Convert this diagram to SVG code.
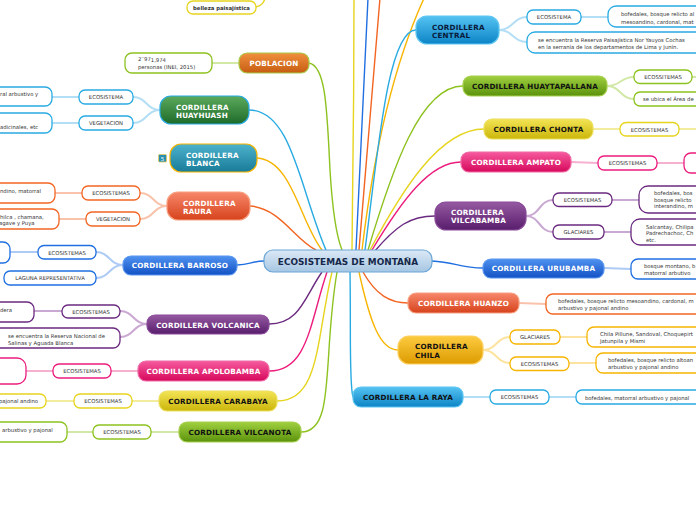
<svg xmlns="http://www.w3.org/2000/svg" width="696" height="520" viewBox="0 0 696 520">
<defs>
<linearGradient id="gCenter" x1="0" y1="0" x2="0" y2="1"><stop offset="0" stop-color="#dbe9f6"/><stop offset="1" stop-color="#a6c6e2"/></linearGradient>
<linearGradient id="gOrange" x1="0" y1="0" x2="0" y2="1"><stop offset="0" stop-color="#f0903e"/><stop offset="1" stop-color="#c65d12"/></linearGradient>
<linearGradient id="gDGreen" x1="0" y1="0" x2="0" y2="1"><stop offset="0" stop-color="#5caa5c"/><stop offset="1" stop-color="#1d6b2a"/></linearGradient>
<linearGradient id="gTeal" x1="0" y1="0" x2="0" y2="1"><stop offset="0" stop-color="#4db2cc"/><stop offset="1" stop-color="#187c98"/></linearGradient>
<linearGradient id="gRed" x1="0" y1="0" x2="0" y2="1"><stop offset="0" stop-color="#f7876a"/><stop offset="1" stop-color="#d6431c"/></linearGradient>
<linearGradient id="gBlue" x1="0" y1="0" x2="0" y2="1"><stop offset="0" stop-color="#4f92f0"/><stop offset="1" stop-color="#1352c4"/></linearGradient>
<linearGradient id="gPurple" x1="0" y1="0" x2="0" y2="1"><stop offset="0" stop-color="#965aa2"/><stop offset="1" stop-color="#581d6c"/></linearGradient>
<linearGradient id="gPink" x1="0" y1="0" x2="0" y2="1"><stop offset="0" stop-color="#f65a9e"/><stop offset="1" stop-color="#d6085c"/></linearGradient>
<linearGradient id="gYellow" x1="0" y1="0" x2="0" y2="1"><stop offset="0" stop-color="#f3e455"/><stop offset="1" stop-color="#cbb60a"/></linearGradient>
<linearGradient id="gGreen" x1="0" y1="0" x2="0" y2="1"><stop offset="0" stop-color="#a0d040"/><stop offset="1" stop-color="#5b920c"/></linearGradient>
<linearGradient id="gCyan" x1="0" y1="0" x2="0" y2="1"><stop offset="0" stop-color="#55c3f2"/><stop offset="1" stop-color="#0c84c6"/></linearGradient>
<linearGradient id="gGold" x1="0" y1="0" x2="0" y2="1"><stop offset="0" stop-color="#fccb40"/><stop offset="1" stop-color="#dd9b00"/></linearGradient>
</defs>
<style>
.m{font-family:"DejaVu Sans",Verdana,sans-serif;font-weight:bold;font-size:7.2px;letter-spacing:0.2px}
.w{fill:#ffffff}
.k{fill:#111111}
.s{font-family:"DejaVu Sans",Verdana,sans-serif;font-size:5.3px;fill:#333333}
.ct{text-anchor:middle}
.c{fill:none;stroke-width:1.4}
.cl{fill:none;stroke-width:2}
.b{fill:#ffffff;stroke-width:1.3}
.gr{stroke:#8dc21f}.cy{stroke:#29abe2}.go{stroke:#f7b500}.rd{stroke:#f26522}.bl{stroke:#1f6fe0}.pu{stroke:#6b2a80}.pk{stroke:#ec1c7d}.ye{stroke:#e6d41e}
.lgr{stroke:#d2e8a6}.lcy{stroke:#b4def5}.lgo{stroke:#fde3a0}.lrd{stroke:#f9c2aa}.lbl{stroke:#aecbf5}.lpu{stroke:#c9a8d2}.lpk{stroke:#f6b0d0}.lye{stroke:#f3ec9e}
</style>

<g id="connectors">
  <!-- main branches -->
  <path class="c ye" d="M352 250 C353 180 354 80 354 -2"/>
  <path class="c bl" d="M356 250 C360 160 365 70 368 -2"/>
  <path class="c rd" d="M359 250 C366 160 374 70 380 -2"/>
  <path class="c go" d="M362 250 C374 150 395 60 426 -6"/>
  <path class="c cy" d="M365 250 C378 150 388 30 416 30"/>
  <path class="c gr" d="M368 250 C392 170 420 86 463 86"/>
  <path class="c ye" d="M370 250 C402 190 440 129 484 129"/>
  <path class="c pk" d="M372 250 C402 200 430 162 461 162"/>
  <path class="c pu" d="M374 252 C396 226 410 216 435 216"/>
  <path class="c bl" d="M432 261 C455 262 460 268 483 268"/>
  <path class="c gr" d="M309 63 C326 66 327 110 330 170 C333 220 338 240 342 250"/>
  <path class="c cy" d="M249 110 C292 110 300 190 326 250"/>
  <path class="c go" d="M257 158 C292 160 300 222 322 250"/>
  <path class="c rd" d="M250 206 C280 208 295 240 316 250"/>
  <path class="c bl" d="M237 265 C250 265 252 261 264 261"/>
  <path class="c pu" d="M322 272 C305 296 300 324 269 324"/>
  <path class="c pk" d="M327 272 C310 322 308 371 269 371"/>
  <path class="c ye" d="M332 272 C316 340 320 401 277 401"/>
  <path class="c gr" d="M337 272 C322 360 336 432 301 432"/>
  <path class="c rd" d="M363 272 C376 295 390 303 408 303"/>
  <path class="c go" d="M359 272 C370 322 380 350 398 350"/>
  <path class="c cy" d="M350 272 C351 330 349 385 353 397"/>
  <path class="c ye" d="M256 7 C262 6 264 2 266 -4"/>
  <!-- sub branches left -->
  <path class="cl lgr" d="M212 63 L239 63"/>
  <path class="cl lcy" d="M160 110 C146 110 147 97 133 97"/>
  <path class="cl lcy" d="M160 110 C146 110 147 123 133 123"/>
  <path class="cl lcy" d="M79 97 L52 97"/>
  <path class="cl lcy" d="M79 123 L52 123"/>
  <path class="cl lrd" d="M167 206 C153 206 154 193 140 193"/>
  <path class="cl lrd" d="M167 206 C153 206 154 219 140 219"/>
  <path class="cl lrd" d="M82 193 L55 193"/>
  <path class="cl lrd" d="M86 219 L59 219"/>
  <path class="cl lbl" d="M123 265 C109 265 110 252 96 252"/>
  <path class="cl lbl" d="M123 265 C109 265 110 278 96 278"/>
  <path class="cl lbl" d="M38 252 L10 252"/>
  <path class="cl lpu" d="M147 324 C133 324 134 311 120 311"/>
  <path class="cl lpu" d="M147 324 C133 324 134 337 120 337"/>
  <path class="cl lpu" d="M62 311 L34 311"/>
  <path class="cl lpk" d="M138 371 L111 371"/>
  <path class="cl lpk" d="M53 371 L26 371"/>
  <path class="cl lye" d="M159 401 L132 401"/>
  <path class="cl lye" d="M74 401 L46 401"/>
  <path class="cl lgr" d="M179 432 L151 432"/>
  <path class="cl lgr" d="M93 432 L67 432"/>
  <!-- sub branches right -->
  <path class="cl lcy" d="M499 30 C513 30 513 17 527 17"/>
  <path class="cl lcy" d="M499 30 C513 30 513 42 527 42"/>
  <path class="cl lcy" d="M581 17 L608 17"/>
  <path class="cl lgr" d="M607 86 C621 86 620 77 634 77"/>
  <path class="cl lgr" d="M607 86 C621 86 620 99 634 99"/>
  <path class="cl lgr" d="M692 77 L700 77"/>
  <path class="cl lye" d="M593 129 L620 129"/>
  <path class="cl lye" d="M679 129 L700 129"/>
  <path class="cl lpk" d="M571 162 L598 163"/>
  <path class="cl lpk" d="M657 163 L684 163"/>
  <path class="cl lpu" d="M526 216 C540 216 539 200 553 200"/>
  <path class="cl lpu" d="M526 216 C540 216 539 232 553 232"/>
  <path class="cl lpu" d="M612 200 L639 200"/>
  <path class="cl lpu" d="M604 232 L631 232"/>
  <path class="cl lbl" d="M604 268 L631 269"/>
  <path class="cl lrd" d="M519 303 L546 304"/>
  <path class="cl lgo" d="M483 350 C497 350 496 337 510 337"/>
  <path class="cl lgo" d="M483 350 C497 350 496 363 510 363"/>
  <path class="cl lgo" d="M560 337 L587 337"/>
  <path class="cl lgo" d="M569 363 L596 363"/>
  <path class="cl lcy" d="M463 397 L490 397"/>
  <path class="cl lcy" d="M549 397 L576 397"/>
</g>

<g id="center">
  <rect x="264" y="250" width="168" height="22" rx="9" fill="url(#gCenter)" stroke="#6aa6d6" stroke-width="1.2"/>
  <text x="348" y="264.5" class="ct" font-family="DejaVu Sans,Verdana,sans-serif" font-weight="bold" font-size="8.9" fill="#16284a">ECOSISTEMAS DE MONTAÑA</text>
</g>

<g id="belleza">
  <rect x="187" y="1" width="69" height="13" rx="6" class="b ye"/>
  <text x="221.5" y="10" class="s ct" font-weight="bold">belleza paisajística</text>
</g>

<g id="poblacion">
  <rect x="239" y="53" width="70" height="20" rx="8" fill="url(#gOrange)" stroke="#a8cc4a" stroke-width="1.2"/>
  <text x="274" y="65.5" class="m w ct">POBLACION</text>
</g>
<g id="poblacion-dato">
  <rect x="125" y="53" width="87" height="20" rx="7" class="b gr"/>
  <text x="138" y="61" class="s">2¨97<tspan dy="1">1,974</tspan></text>
  <text x="138" y="68.5" class="s">personas (INEI, 2015)</text>
</g>

<g id="huayhuash">
  <rect x="160" y="96" width="89" height="28" rx="11" fill="url(#gDGreen)" stroke="#29abe2" stroke-width="1.2"/>
  <text x="176" y="109.5" class="m w">CORDILLERA</text>
  <text x="176" y="118" class="m w">HUAYHUASH</text>
</g>
<g id="huayhuash-eco">
  <rect x="79" y="90" width="54" height="14" rx="6" class="b cy"/>
  <text x="106" y="99" class="s ct">ECOSISTEMA</text>
</g>
<g id="huayhuash-veg">
  <rect x="79" y="116" width="54" height="14" rx="6" class="b cy"/>
  <text x="106" y="125" class="s ct">VEGETACION</text>
</g>
<g id="huayhuash-eco-leaf">
  <rect x="-30" y="87" width="82" height="19" rx="7" class="b cy"/>
  <text x="0" y="96" class="s">ral arbustivo y</text>
</g>
<g id="huayhuash-veg-leaf">
  <rect x="-30" y="113" width="82" height="20" rx="7" class="b cy"/>
  <text x="0" y="128.5" class="s">adicinales, etc</text>
</g>

<g id="blanca">
  <rect x="170" y="144" width="87" height="28" rx="11" fill="url(#gTeal)" stroke="#f7b500" stroke-width="1.2"/>
  <text x="186" y="157.5" class="m w">CORDILLERA</text>
  <text x="186" y="166" class="m w">BLANCA</text>
  <rect x="158.5" y="154.5" width="8" height="7.5" rx="1" fill="#2a8fb0" stroke="#e8c85a" stroke-width="0.8"/>
  <text x="162.5" y="160.5" font-family="DejaVu Sans,sans-serif" font-size="5.5" fill="#fff" text-anchor="middle">5</text>
</g>

<g id="raura">
  <rect x="167" y="192" width="83" height="28" rx="11" fill="url(#gRed)" stroke="#f7a080" stroke-width="1.2"/>
  <text x="183" y="205.5" class="m w">CORDILLERA</text>
  <text x="183" y="214" class="m w">RAURA</text>
</g>
<g id="raura-eco">
  <rect x="82" y="186" width="58" height="14" rx="6" class="b rd"/>
  <text x="111" y="195" class="s ct">ECOSISTEMAS</text>
</g>
<g id="raura-veg">
  <rect x="86" y="212" width="54" height="14" rx="6" class="b rd"/>
  <text x="113" y="221" class="s ct">VEGETACION</text>
</g>
<g id="raura-eco-leaf">
  <rect x="-30" y="183" width="85" height="20" rx="7" class="b rd"/>
  <text x="0" y="193" class="s">ndino, matorral</text>
</g>
<g id="raura-veg-leaf">
  <rect x="-30" y="209" width="89" height="20" rx="7" class="b rd"/>
  <text x="0" y="218.5" class="s">hilca , chamana,</text>
  <text x="-1" y="225" class="s">agave y Puya</text>
</g>

<g id="barroso">
  <rect x="123" y="256" width="114" height="19" rx="8" fill="url(#gBlue)" stroke="#5a96f0" stroke-width="1.2"/>
  <text x="180" y="268" class="m w ct">CORDILLERA BARROSO</text>
</g>
<g id="barroso-eco">
  <rect x="38" y="245.5" width="58" height="13.5" rx="6" class="b bl"/>
  <text x="67" y="254.5" class="s ct">ECOSISTEMAS</text>
</g>
<g id="barroso-laguna">
  <rect x="4" y="271" width="92" height="14" rx="6" class="b bl"/>
  <text x="50" y="280" class="s ct">LAGUNA REPRESENTATIVA</text>
</g>
<g id="barroso-eco-leaf">
  <rect x="-30" y="242" width="40" height="21" rx="7" class="b bl"/>
</g>

<g id="volcanica">
  <rect x="147" y="315" width="122" height="19" rx="8" fill="url(#gPurple)" stroke="#8a4a9a" stroke-width="1.2"/>
  <text x="208" y="327.5" class="m w ct">CORDILLERA VOLCANICA</text>
</g>
<g id="volcanica-eco">
  <rect x="62" y="305" width="58" height="13" rx="6" class="b pu"/>
  <text x="91" y="313.8" class="s ct">ECOSISTEMAS</text>
</g>
<g id="volcanica-eco-leaf">
  <rect x="-30" y="302" width="64" height="20" rx="7" class="b pu"/>
  <text x="0" y="311.5" class="s">dera</text>
</g>
<g id="volcanica-reserva">
  <rect x="-10" y="328" width="130" height="20" rx="7" class="b pu"/>
  <text x="8" y="337.5" class="s">se encuentra la Reserva Nacional de</text>
  <text x="8" y="344.5" class="s">Salinas y Aguada Blanca</text>
</g>

<g id="apolobamba">
  <rect x="138" y="361" width="131" height="20" rx="8" fill="url(#gPink)" stroke="#f06aa6" stroke-width="1.2"/>
  <text x="203.5" y="373.8" class="m w ct">CORDILLERA APOLOBAMBA</text>
</g>
<g id="apolobamba-eco">
  <rect x="53" y="364" width="58" height="14" rx="6" class="b pk"/>
  <text x="82" y="373" class="s ct">ECOSISTEMAS</text>
</g>
<g id="apolobamba-leaf">
  <rect x="-30" y="358" width="56" height="26" rx="9" class="b pk"/>
</g>

<g id="carabaya">
  <rect x="159" y="391" width="118" height="20" rx="8" fill="url(#gYellow)" stroke="#ece060" stroke-width="1.2"/>
  <text x="218" y="403.8" class="m k ct">CORDILLERA CARABAYA</text>
</g>
<g id="carabaya-eco">
  <rect x="74" y="394" width="58" height="14" rx="6" class="b ye"/>
  <text x="103" y="403" class="s ct">ECOSISTEMAS</text>
</g>
<g id="carabaya-leaf">
  <rect x="-30" y="394" width="76" height="14" rx="6" class="b ye"/>
  <text x="-1" y="403" class="s">pajonal andino</text>
</g>

<g id="vilcanota">
  <rect x="179" y="422" width="122" height="20" rx="8" fill="url(#gGreen)" stroke="#a8d050" stroke-width="1.2"/>
  <text x="240" y="434.8" class="m k ct">CORDILLERA VILCANOTA</text>
</g>
<g id="vilcanota-eco">
  <rect x="93" y="425" width="58" height="14" rx="6" class="b gr"/>
  <text x="122" y="434" class="s ct">ECOSISTEMAS</text>
</g>
<g id="vilcanota-leaf">
  <rect x="-30" y="422" width="97" height="20" rx="7" class="b gr"/>
  <text x="2" y="431.5" class="s">arbustivo y pajonal</text>
</g>

<g id="central">
  <rect x="416" y="16" width="83" height="28" rx="11" fill="url(#gCyan)" stroke="#5ec6f2" stroke-width="1.2"/>
  <text x="432" y="29.5" class="m" fill="#0a1a3a">CORDILLERA</text>
  <text x="432" y="38" class="m" fill="#0a1a3a">CENTRAL</text>
</g>
<g id="central-eco">
  <rect x="527" y="10" width="54" height="14" rx="6" class="b cy"/>
  <text x="554" y="19" class="s ct">ECOSISTEMA</text>
</g>
<g id="central-eco-leaf">
  <rect x="608" y="6" width="120" height="21" rx="8" class="b cy"/>
  <text x="621" y="16" class="s">bofedales, bosque relicto al</text>
  <text x="621" y="23.5" class="s">mesoandino, cardonal, mat</text>
</g>
<g id="central-reserva">
  <rect x="527" y="32" width="200" height="21" rx="8" class="b cy"/>
  <text x="538" y="41.5" class="s">se encuentra la Reserva Paisajística Nor Yauyos Cochas</text>
  <text x="538" y="49" class="s">en la serranía de los departamentos de Lima y Junín.</text>
</g>

<g id="huaytapallana">
  <rect x="463" y="76" width="144" height="20" rx="8" fill="url(#gGreen)" stroke="#a8d050" stroke-width="1.2"/>
  <text x="535" y="88.8" class="m k ct">CORDILLERA HUAYTAPALLANA</text>
</g>
<g id="huaytapallana-eco">
  <rect x="634" y="70" width="58" height="13.5" rx="6" class="b gr"/>
  <text x="663" y="79" class="s ct">ECOSSITEMAS</text>
</g>
<g id="huaytapallana-area">
  <rect x="634" y="92" width="90" height="14" rx="6" class="b gr"/>
  <text x="643" y="101" class="s">se ubica el Área de</text>
</g>

<g id="chonta">
  <rect x="484" y="119" width="109" height="20" rx="8" fill="url(#gYellow)" stroke="#ece060" stroke-width="1.2"/>
  <text x="538.5" y="131.8" class="m k ct">CORDILLERA CHONTA</text>
</g>
<g id="chonta-eco">
  <rect x="620" y="122.5" width="59" height="13.5" rx="6" class="b ye"/>
  <text x="649.5" y="131.5" class="s ct">ECOSISTEMAS</text>
</g>

<g id="ampato">
  <rect x="461" y="152" width="110" height="20" rx="8" fill="url(#gPink)" stroke="#f06aa6" stroke-width="1.2"/>
  <text x="516" y="164.8" class="m w ct">CORDILLERA AMPATO</text>
</g>
<g id="ampato-eco">
  <rect x="598" y="156" width="59" height="14" rx="6" class="b pk"/>
  <text x="627.5" y="165" class="s ct">ECOSISTEMAS</text>
</g>
<g id="ampato-leaf">
  <rect x="684" y="153" width="40" height="20" rx="7" class="b pk"/>
</g>

<g id="vilcabamba">
  <rect x="435" y="202" width="91" height="28" rx="11" fill="url(#gPurple)" stroke="#8a4a9a" stroke-width="1.2"/>
  <text x="451" y="215" class="m w">CORDILLERA</text>
  <text x="451" y="223" class="m w">VILCABAMBA</text>
</g>
<g id="vilcabamba-eco">
  <rect x="553" y="193" width="59" height="13.5" rx="6" class="b pu"/>
  <text x="582.5" y="202" class="s ct">ECOSISTEMAS</text>
</g>
<g id="vilcabamba-eco-leaf">
  <rect x="639" y="186" width="90" height="27" rx="9" class="b pu"/>
  <text x="654" y="195" class="s">bofedales, bos</text>
  <text x="654" y="201.5" class="s">bosque relicto</text>
  <text x="654" y="208" class="s">interandino, m</text>
</g>
<g id="vilcabamba-glaciares">
  <rect x="553" y="225" width="51" height="14" rx="6" class="b pu"/>
  <text x="578.5" y="234" class="s ct">GLACIARES</text>
</g>
<g id="vilcabamba-gla-leaf">
  <rect x="631" y="219" width="95" height="26" rx="9" class="b pu"/>
  <text x="646" y="228.5" class="s">Salcantay, Chilipa</text>
  <text x="646" y="235" class="s">Padrechachoc, Ch</text>
  <text x="646" y="241.5" class="s">etc.</text>
</g>

<g id="urubamba">
  <rect x="483" y="259" width="121" height="19" rx="8" fill="url(#gBlue)" stroke="#5a96f0" stroke-width="1.2"/>
  <text x="543.5" y="271.3" class="m w ct">CORDILLERA URUBAMBA</text>
</g>
<g id="urubamba-leaf">
  <rect x="631" y="259" width="95" height="20" rx="7" class="b bl"/>
  <text x="644" y="267.5" class="s">bosque montano, b</text>
  <text x="644" y="274.5" class="s">matorral arbutivo</text>
</g>

<g id="huanzo">
  <rect x="408" y="293" width="111" height="20" rx="8" fill="url(#gRed)" stroke="#f7a080" stroke-width="1.2"/>
  <text x="463.5" y="305.8" class="m w ct">CORDILLERA HUANZO</text>
</g>
<g id="huanzo-leaf">
  <rect x="546" y="294" width="180" height="20" rx="7" class="b rd"/>
  <text x="558" y="302.5" class="s">bofedales, bosque relicto mesoandino, cardonal, m</text>
  <text x="558" y="309.5" class="s">arbustivo y pajonal andino</text>
</g>

<g id="chila">
  <rect x="398" y="336" width="85" height="28" rx="11" fill="url(#gGold)" stroke="#fdd060" stroke-width="1.2"/>
  <text x="415" y="349" class="m k">CORDILLERA</text>
  <text x="415" y="357.8" class="m k">CHILA</text>
</g>
<g id="chila-glaciares">
  <rect x="510" y="330" width="50" height="14" rx="6" class="b go"/>
  <text x="535" y="339" class="s ct">GLACIARES</text>
</g>
<g id="chila-gla-leaf">
  <rect x="587" y="327" width="140" height="20" rx="7" class="b go"/>
  <text x="600" y="336" class="s">Chila Pillune, Sandoval, Choquepirt</text>
  <text x="600" y="343" class="s">Jatunpila y Mismi</text>
</g>
<g id="chila-eco">
  <rect x="510" y="357" width="59" height="13.5" rx="6" class="b go"/>
  <text x="539.5" y="366" class="s ct">ECOSISTEMAS</text>
</g>
<g id="chila-eco-leaf">
  <rect x="596" y="353" width="130" height="20" rx="7" class="b go"/>
  <text x="608" y="362" class="s">bofedales, bosque relicto altoan</text>
  <text x="608" y="369" class="s">arbustivo y pajonal andino</text>
</g>

<g id="laraya">
  <rect x="353" y="387" width="110" height="20" rx="8" fill="url(#gCyan)" stroke="#5ec6f2" stroke-width="1.2"/>
  <text x="408" y="399.8" class="m k ct">CORDILLERA LA RAYA</text>
</g>
<g id="laraya-eco">
  <rect x="490" y="390" width="59" height="14" rx="6" class="b cy"/>
  <text x="519.5" y="399" class="s ct">ECOSISTEMAS</text>
</g>
<g id="laraya-leaf">
  <rect x="576" y="390" width="150" height="14" rx="6" class="b cy"/>
  <text x="585" y="399.5" class="s">bofedales, matorral arbustivo y pajonal</text>
</g>
</svg>
